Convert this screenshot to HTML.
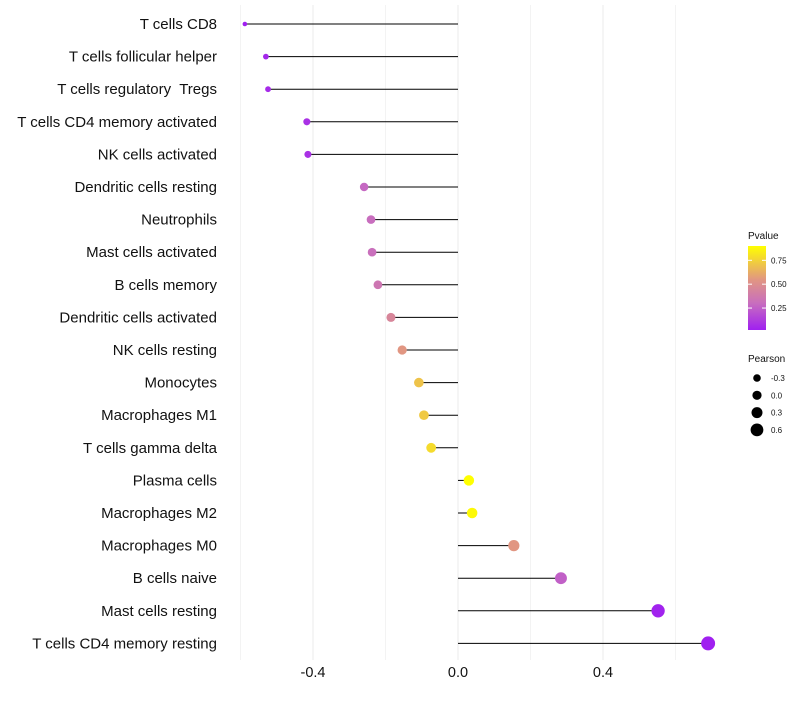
<!DOCTYPE html>
<html><head><meta charset="utf-8"><style>
body{margin:0;background:#fff;font-family:"Liberation Sans",sans-serif}
svg text{font-family:"Liberation Sans",sans-serif;white-space:pre}
</style></head><body>
<svg id="c" width="800" height="700"></svg>
<script>
const categories=["T cells CD8","T cells follicular helper","T cells regulatory  Tregs","T cells CD4 memory activated","NK cells activated","Dendritic cells resting","Neutrophils","Mast cells activated","B cells memory","Dendritic cells activated","NK cells resting","Monocytes","Macrophages M1","T cells gamma delta","Plasma cells","Macrophages M2","Macrophages M0","B cells naive","Mast cells resting","T cells CD4 memory resting"];
const pearson=[-0.588,-0.530,-0.524,-0.417,-0.414,-0.259,-0.240,-0.237,-0.221,-0.185,-0.154,-0.108,-0.094,-0.074,0.030,0.039,0.154,0.284,0.552,0.690];
const pvalues=[0.02,0.05,0.06,0.08,0.08,0.28,0.30,0.31,0.35,0.45,0.55,0.70,0.72,0.78,0.90,0.88,0.55,0.25,0.03,0.02];
const xTicks=[-0.4,0.0,0.4];
const xMinor=[-0.6,-0.2,0.2,0.6];
const legendP=[0.25,0.50,0.75];
const legendR=[-0.3,0.0,0.3,0.6];
const NS="http://www.w3.org/2000/svg";
const svg=document.getElementById('c');
function mk(t,a,p){const e=document.createElementNS(NS,t);for(const k in a)e.setAttribute(k,a[k]);(p||svg).appendChild(e);return e;}
const x=v=>458+v*362.5;
const y=i=>24+i*32.6;
const rs=v=>2+5*Math.pow(Math.max(0,(v+0.6)/1.3),0.6);
function lerp(a,b,t){return a.map((c,i)=>Math.round(c+(b[i]-c)*t));}
function col(p){const s=[[0.02,[160,32,240]],[0.3,[200,110,190]],[0.55,[225,150,130]],[0.9,[255,255,0]]];p=Math.max(0.02,Math.min(0.9,p));
 for(let i=0;i<s.length-1;i++){if(p<=s[i+1][0]){const t=(p-s[i][0])/(s[i+1][0]-s[i][0]);const c=lerp(s[i][1],s[i+1][1],t);return `rgb(${c})`;}}return 'rgb(255,255,0)';}
xMinor.forEach(v=>{const g=mk('line',{x1:x(v),x2:x(v),y1:5,y2:660,stroke:'#f3f3f3','stroke-width':1});

});
xTicks.forEach(v=>{const g=mk('line',{x1:x(v),x2:x(v),y1:5,y2:660,stroke:'#ebebeb','stroke-width':1});


const t=mk('text',{x:x(v),y:677,'text-anchor':'middle','font-size':14.5,fill:'#111'});t.textContent=v.toFixed(1);

});
categories.forEach((c,i)=>{
 const t=mk('text',{x:217,y:y(i)+5,'text-anchor':'end','font-size':15,fill:'#111'});t.textContent=c;
 
 
 const l=mk('line',{x1:x(0),x2:x(pearson[i]),y1:y(i),y2:y(i),stroke:'#000','stroke-width':1});
 
 
 const d=mk('circle',{cx:x(pearson[i]),cy:y(i),r:rs(pearson[i]),fill:col(pvalues[i])});
 
 
});
const defs=mk('defs',{});const gr=mk('linearGradient',{id:'g',x1:0,y1:1,x2:0,y2:0},defs);
[[0,'rgb(160,32,240)'],[0.32,'rgb(200,110,190)'],[0.6,'rgb(225,150,130)'],[1,'rgb(255,255,0)']].forEach(s=>mk('stop',{offset:s[0],'stop-color':s[1]},gr));
const lt=mk('text',{x:748,y:239,'font-size':10,fill:'#111'});lt.textContent='Pvalue';


const bar=mk('rect',{x:748,y:246,width:18,height:84,fill:'url(#g)'});


const py=p=>330-(p-0.02)/(0.88)*84;
legendP.forEach(p=>{mk('line',{x1:748,x2:752,y1:py(p),y2:py(p),stroke:'#fff'});mk('line',{x1:762,x2:766,y1:py(p),y2:py(p),stroke:'#fff'});
 const t=mk('text',{x:771,y:py(p)+3,'font-size':8,fill:'#111'});t.textContent=p.toFixed(2);
 
 });
const st=mk('text',{x:748,y:362,'font-size':10,fill:'#111'});st.textContent='Pearson';


legendR.forEach((v,i)=>{const cy=378+i*17.3;
 const d=mk('circle',{cx:757,cy:cy,r:[3.8,4.6,5.5,6.4][i],fill:'#000'});
 
 
 const t=mk('text',{x:771,y:cy+3,'font-size':8,fill:'#111'});t.textContent=v.toFixed(1);
 
 });
</script>
</body></html>
